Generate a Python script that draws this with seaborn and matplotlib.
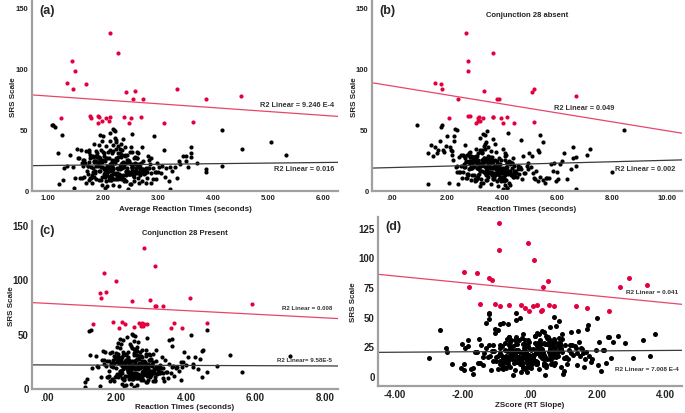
import numpy as np
import pandas as pd
import matplotlib as mpl
mpl.use('Agg')
import matplotlib.pyplot as plt
import seaborn as sb

# SRS scores of the participants under the cut-off (black dots), same people in all panels
srs_low = [12, 18, 25, 8, 31, 15, 22, 3, 19, 27, 14, 36, 10, 21, 17, 6, 29, 24, 13, 41,
           20, 9, 33, 16, 26, 11, 45, 19, 7, 23, 30, 14, 18, 38, 5, 22, 12, 28, 16, 25,
           34, 17, 10, 21, 4, 27, 15, 48, 20, 13, 24, 8, 32, 19, 11, 26, 37, 14, 22, 6,
           18, 29, 12, 23, 40, 9, 16, 31, 21, 2, 25, 14, 19, 35, 11, 27, 17, 7, 43, 20,
           15, 24, 10, 30, 18, 13, 52, 22, 8, 26, 16, 33, 20, 12, 28, 5, 19, 39, 23, 14,
           21, 11, 27, 17, 9, 34, 25, 15, 47, 19, 6, 30, 13, 22, 18, 42, 10, 26, 16, 1,
           23, 16, 36, 12, 20, 28, 8, 24, 14, 31, 18, 44, 11, 25, 19, 3, 29, 15, 21, 38,
           13, 26, 17, 9, 33, 22, 15, 50, 19, 27, 10, 23, 16, 35, 7, 20, 12, 30, 18, 24,
           14, 21, 46, 11, 28, 17, 24, 6, 32, 19, 15, 26, 9, 22, 40, 13, 18, 29, 4, 16,
           25, 12, 20, 37, 15, 23, 10, 27, 18, 49, 14, 21, 8, 31, 17, 24, 11, 35, 19, 2,
           22, 16, 28, 13, 19, 44, 9, 25, 17, 30, 12, 21, 53, 15, 26, 18, 7, 33, 14, 20,
           49, 34, 39, 29, 20, 15, 35, 30, 27, 17, 53, 45, 22, 10, 28, 5, 33, 24, 1, 15,
           17, 22, 9, 26, 13, 19, 31, 11, 24, 15, 20, 7, 28, 16, 23, 12, 18, 33, 10, 21,
           14, 25, 19, 8, 29, 16, 22, 12, 27, 18, 11, 24, 20, 6, 30, 15, 26, 13, 21, 17,
           23, 10, 18, 32, 14, 21, 9, 26, 16, 19, 13, 28, 22, 11, 17, 25, 8, 20, 15, 34,
           19, 27, 12, 16, 24, 7, 21, 15, 29, 18, 10, 23, 14, 26, 20, 13, 31, 17, 22, 9,
           16, 21, 28, 11, 18, 25, 14, 20, 8, 23, 17, 30, 12, 19, 26, 15, 22, 10, 24, 18]

rt_avg = [2.15, 1.82, 2.43, 1.96, 2.61, 2.08, 1.67, 2.29, 2.52, 1.91, 2.74, 2.05, 1.58, 2.37, 2.19, 2.88, 1.76, 2.46, 2.02, 2.23,
          1.88, 2.33, 2.12, 1.71, 2.56, 2.27, 1.94, 2.68, 2.41, 1.99, 2.17, 3.05, 2.09, 1.84, 2.49, 1.62, 2.36, 2.81, 1.93, 2.26,
          2.31, 2.72, 1.79, 2.14, 1.98, 2.58, 2.94, 2.21, 1.73, 2.47, 2.03, 2.39, 1.87, 2.65, 2.11, 1.55, 2.18, 2.77, 2.34, 1.69,
          2.06, 2.44, 2.25, 1.83, 2.13, 2.97, 1.95, 2.53, 2.32, 1.48, 2.16, 2.62, 1.78, 2.40, 3.12, 1.92, 2.28, 2.71, 2.22, 1.64,
          2.55, 1.86, 2.35, 2.01, 2.79, 2.19, 1.12, 2.42, 1.74, 2.87, 2.10, 1.97, 2.64, 2.30, 1.81, 2.50, 3.21, 2.24, 1.90, 2.59,
          2.38, 2.04, 1.89, 2.67, 2.20, 1.53, 2.45, 2.76, 2.12, 3.30, 1.80, 2.27, 2.49, 1.93, 2.83, 2.36, 1.61, 2.07, 2.57, 2.45,
          1.95, 2.60, 2.28, 2.41, 1.72, 3.45, 2.15, 1.85, 2.69, 2.00, 2.34, 2.92, 1.65, 2.22, 2.53, 2.08, 1.40, 2.80, 2.14, 2.32,
          2.48, 1.77, 2.11, 2.90, 1.60, 2.37, 2.63, 2.18, 3.02, 1.90, 2.26, 1.75, 2.44, 2.70, 2.05, 1.35, 2.55, 2.30, 3.15, 1.98,
          2.21, 2.85, 2.52, 1.84, 2.40, 2.01, 3.38, 2.66, 1.70, 2.13, 2.96, 1.57, 2.24, 2.47, 1.99, 2.75, 1.30, 2.35, 2.18, 3.25,
          1.66, 2.29, 3.08, 1.92, 2.58, 2.16, 1.50, 1.81, 2.43, 2.20, 2.87, 2.62, 1.27, 2.09, 2.71, 1.94, 2.33, 2.51, 1.45, 2.03,
          2.99, 2.17, 1.87, 2.56, 3.55, 2.00, 2.39, 1.63, 2.78, 1.18, 2.25, 3.40, 1.08, 2.46, 2.10, 2.82, 3.20, 1.75, 2.65, 2.12,
          4.17, 4.52, 5.05, 5.32, 4.17, 3.87, 3.60, 3.60, 3.60, 3.87, 1.10, 1.25, 3.70, 3.35, 3.50, 1.20, 3.10, 3.50, 3.22, 3.00,
          2.05, 2.38, 1.88, 2.62, 2.21, 1.97, 2.49, 2.14, 2.73, 1.81, 2.30, 2.56, 2.02, 2.44, 1.92, 2.67, 2.18, 2.35, 1.76, 2.58,
          2.26, 1.94, 2.52, 2.11, 2.40, 1.85, 2.69, 2.07, 2.33, 2.60, 1.99, 2.47, 2.16, 2.78, 1.90, 2.42, 2.24, 1.72, 2.55, 2.09,
          2.36, 2.64, 2.01, 2.19, 1.86, 2.50, 2.28, 1.95, 2.71, 2.12, 2.43, 1.79, 2.58, 2.04, 2.31, 2.84, 2.15, 1.91, 2.47, 2.23,
          1.98, 2.27, 2.54, 2.10, 1.83, 2.39, 2.66, 2.03, 2.32, 2.90, 2.17, 1.89, 2.45, 2.61, 2.08, 2.29, 1.74, 2.53, 2.20, 2.37,
          2.42, 2.13, 1.87, 2.57, 2.25, 2.00, 2.74, 2.34, 1.93, 2.48, 2.11, 2.63, 1.80, 2.39, 2.06, 2.52, 2.22, 2.80, 1.96, 2.30]

rt_absent = [3.42, 2.85, 4.11, 3.05, 3.77, 2.48, 4.36, 3.21, 2.96, 3.64, 4.52, 3.33, 2.71, 3.92, 3.15, 4.24, 2.59, 3.58, 3.87, 4.68,
             2.92, 3.69, 3.26, 4.45, 2.66, 3.98, 3.38, 2.33, 4.07, 3.51, 2.79, 4.81, 3.12, 3.74, 2.41, 4.19, 3.46, 2.88, 3.95, 3.29,
             4.02, 3.18, 2.55, 3.83, 4.29, 2.99, 3.61, 3.47, 4.58, 2.74, 3.36, 4.15, 2.19, 3.71, 3.09, 4.40, 2.64, 3.55, 4.93, 3.24,
             3.66, 2.50, 4.33, 3.02, 2.27, 4.71, 3.40, 2.83, 3.89, 4.17, 3.13, 5.12, 2.61, 3.49, 4.04, 2.94, 3.79, 5.30, 3.20, 2.37,
             3.57, 4.26, 2.69, 3.11, 4.64, 3.85, 1.78, 2.90, 5.48, 3.34, 4.49, 2.13, 3.72, 2.98, 4.12, 3.60, 5.05, 3.43, 2.76, 4.85,
             3.27, 4.55, 2.44, 3.81, 5.21, 3.07, 3.96, 2.58, 4.21, 3.52, 2.07, 4.97, 3.16, 4.38, 2.86, 3.68, 5.62, 3.00, 4.09, 4.05,
             4.30, 3.19, 1.95, 3.63, 2.52, 4.76, 3.44, 2.81, 3.93, 5.35, 3.08, 2.24, 4.44, 3.55, 2.67, 3.86, 4.13, 2.35, 5.78, 3.37,
             2.78, 3.90, 4.60, 3.25, 1.85, 3.48, 4.28, 2.30, 3.70, 2.95, 5.15, 3.59, 4.18, 2.10, 3.82, 4.90, 3.14, 1.62, 4.35, 3.01,
             3.75, 2.62, 3.30, 4.40, 1.50, 3.97, 2.87, 5.55, 3.22, 4.66, 2.45, 3.53, 6.05, 3.10, 1.75, 4.23, 3.65, 2.18, 4.10, 5.85,
             2.20, 4.45, 3.80, 1.42, 3.35, 2.70, 5.70, 3.06, 4.02, 2.38, 3.62, 6.10, 2.89, 1.90, 4.70, 3.44, 5.40, 1.55, 3.17, 4.20,
             3.53, 5.25, 2.60, 4.62, 3.88, 2.00, 6.35, 3.28, 4.95, 1.30, 3.73, 2.82, 1.80, 4.15, 6.60, 3.40, 5.95, 1.68, 4.52, 2.92,
             8.45, 7.20, 5.50, 7.10, 6.70, 8.00, 6.60, 6.25, 6.70, 6.50, 0.90, 5.40, 5.90, 5.60, 5.10, 1.30, 5.30, 6.20, 6.70, 6.00,
             3.45, 3.12, 3.88, 2.95, 3.62, 4.15, 3.28, 3.70, 2.82, 4.02, 3.36, 3.95, 3.05, 4.25, 3.55, 2.90, 3.78, 3.20, 4.08, 3.48,
             3.67, 3.02, 4.20, 3.40, 2.75, 3.85, 3.15, 4.35, 3.58, 3.10, 3.92, 2.68, 3.75, 3.30, 4.12, 3.52, 2.98, 4.40, 3.25, 3.80,
             3.33, 3.98, 2.88, 3.60, 4.05, 3.18, 3.72, 2.93, 4.28, 3.42, 3.85, 3.08, 4.18, 3.50, 2.80, 3.65, 4.00, 3.23, 3.90, 3.38,
             3.57, 2.85, 4.10, 3.27, 3.82, 3.00, 4.30, 3.46, 2.72, 3.95, 3.14, 3.68, 4.22, 3.35, 2.97, 3.77, 3.22, 4.08, 3.60, 3.03,
             3.90, 3.20, 3.50, 4.00, 2.92, 3.73, 3.37, 4.45, 3.06, 3.63, 4.13, 3.29, 2.78, 3.86, 3.44, 4.26, 3.11, 3.69, 2.99, 3.54]

rt_present = [2.45, 1.98, 2.72, 2.20, 3.05, 2.36, 1.84, 2.58, 2.91, 2.13, 3.22, 2.50, 1.73, 2.66, 2.29, 3.38, 1.92, 2.81, 2.40, 2.05,
              2.17, 2.62, 2.33, 1.79, 2.96, 2.48, 2.09, 3.14, 2.75, 2.25, 2.55, 3.56, 2.38, 2.02, 2.87, 1.65, 2.68, 3.30, 2.11, 2.52,
              2.59, 3.10, 1.95, 2.42, 2.15, 2.99, 3.45, 2.52, 1.88, 2.78, 2.27, 2.70, 2.00, 3.18, 2.35, 1.58, 2.46, 3.25, 2.64, 1.81,
              2.30, 2.85, 2.56, 1.94, 2.39, 3.48, 2.12, 2.93, 2.61, 1.52, 2.44, 3.02, 1.90, 2.74, 3.65, 2.06, 2.53, 3.12, 2.49, 1.70,
              2.90, 2.03, 2.65, 2.26, 3.28, 2.47, 1.20, 2.77, 1.86, 3.40, 2.34, 2.18, 3.01, 2.57, 1.97, 2.84, 3.75, 2.41, 2.08, 2.95,
              2.69, 2.24, 2.04, 3.07, 2.43, 1.62, 2.79, 3.20, 2.31, 3.88, 1.93, 2.51, 2.83, 2.10, 3.35, 2.63, 1.75, 2.28, 2.97, 1.10,
              2.14, 2.98, 2.55, 2.76, 1.83, 4.05, 2.37, 2.01, 3.08, 2.21, 2.67, 3.52, 1.77, 2.49, 2.89, 2.26, 1.40, 3.27, 2.39, 2.60,
              2.82, 1.91, 2.32, 3.33, 1.68, 2.71, 3.04, 2.44, 3.60, 2.07, 2.53, 1.86, 2.78, 3.15, 2.22, 1.45, 2.94, 2.60, 3.70, 2.16,
              2.50, 3.24, 2.88, 2.00, 2.74, 2.19, 3.92, 3.06, 1.80, 2.35, 3.42, 1.63, 2.56, 2.86, 2.12, 3.16, 1.30, 2.68, 2.41, 3.80,
              1.78, 2.59, 3.62, 2.09, 2.93, 2.37, 1.55, 1.99, 2.80, 2.47, 3.35, 3.01, 1.15, 2.27, 3.11, 2.06, 2.66, 2.85, 1.48, 2.23,
              3.50, 2.40, 2.04, 2.92, 4.20, 2.18, 2.72, 1.72, 3.20, 1.25, 2.55, 4.00, 1.28, 2.80, 2.30, 3.26, 3.85, 1.88, 3.00, 2.33,
              4.15, 4.45, 3.60, 7.00, 4.90, 4.60, 4.50, 5.27, 4.40, 4.35, 4.60, 3.60, 4.20, 4.45, 4.25, 1.10, 3.95, 3.85, 2.50, 5.60,
              2.40, 2.72, 2.15, 2.95, 2.52, 2.28, 2.84, 2.46, 3.05, 2.10, 2.63, 2.90, 2.33, 2.78, 2.20, 3.00, 2.50, 2.68, 2.05, 2.88,
              2.57, 2.25, 2.82, 2.44, 2.70, 2.12, 3.02, 2.38, 2.65, 2.92, 2.30, 2.79, 2.48, 3.10, 2.18, 2.74, 2.55, 2.02, 2.86, 2.42,
              2.66, 2.97, 2.32, 2.50, 2.16, 2.81, 2.60, 2.26, 3.04, 2.43, 2.76, 2.08, 2.90, 2.36, 2.62, 3.15, 2.47, 2.22, 2.78, 2.54,
              2.29, 2.58, 2.87, 2.41, 2.13, 2.71, 2.98, 2.34, 2.64, 3.20, 2.49, 2.19, 2.77, 2.93, 2.39, 2.61, 2.04, 2.85, 2.52, 2.69,
              2.75, 2.44, 2.17, 2.89, 2.56, 2.31, 3.07, 2.67, 2.23, 2.80, 2.42, 2.95, 2.10, 2.71, 2.37, 2.84, 2.53, 3.12, 2.27, 2.61]

z_slope = [0.12, -0.45, 0.68, -0.22, 0.95, -0.70, 0.33, -0.08, 1.20, -0.38, 0.51, -1.05, 0.20, -0.57, 0.82, -0.15, 1.45, -0.90, 0.05, 0.60,
           -0.30, 0.44, -0.62, 1.08, -0.12, 0.73, -1.30, 0.26, -0.84, 0.58, -0.05, 1.62, -0.48, 0.37, -1.15, 0.90, -0.25, 0.14, -0.76, 1.33,
           0.48, -0.95, 0.17, -0.40, 1.02, -0.18, 0.64, -1.22, 0.30, -0.66, 1.52, -0.02, 0.85, -0.53, 0.22, -1.45, 0.40, -0.10, 1.15, -0.80,
           -0.20, 0.75, -0.72, 0.10, -1.05, 1.38, -0.35, 0.55, -0.60, 0.98, -0.12, 1.85, -0.88, 0.28, -1.55, 0.62, -0.42, 0.02, 1.72, -0.28,
           0.35, -0.58, 1.10, -0.15, 0.70, -1.10, -1.20, 0.18, -0.78, 1.25, -0.32, 0.52, -1.62, 0.08, 0.88, -0.45, 1.58, -0.96, 0.25, -0.05,
           -0.68, 0.42, -0.22, 1.48, -1.40, 0.15, -0.50, 1.00, -0.40, 0.65, -1.75, 0.30, -0.10, 1.95, -0.85, 0.78, -0.30, 1.18, -1.25, 0.45,
           0.58, -1.00, 0.22, -0.38, 1.65, -0.75, 0.92, -0.18, 0.40, -1.50, 1.28, -0.65, 0.00, -1.85, 0.80, -0.28, 2.05, 0.10, -1.08, 1.42,
           -0.45, 1.05, -1.18, 0.48, -0.62, 2.20, -0.02, 0.70, -1.35, 0.32, -0.88, 1.55, -0.20, 0.95, -1.68, 0.18, 1.80, -0.55, 0.62, -1.92,
           1.12, -0.35, 0.85, -1.48, 0.25, -0.72, 1.35, -0.95, 0.50, -0.15, 2.40, -1.20, 0.72, -0.42, 1.70, -1.02, 0.38, -0.60, 2.10, -0.25,
           -0.82, 0.20, -1.58, 1.20, -0.08, 0.88, -1.95, 0.45, -0.50, 1.98, 0.05, -1.12, 1.60, -0.68, 0.30, -1.30, 2.25, -0.20, 0.68, -1.70,
           0.92, -1.40, 0.55, -0.30, 1.38, -0.90, 2.00, -0.05, 1.75, -1.85, 0.15, -0.58, -0.40, 1.05, -1.10, 0.42, -2.05, 2.35, -0.75, 0.80,
           -0.30, 2.60, -2.67, 2.45, -2.45, 3.05, 3.70, 3.35, -2.00, 3.55, -1.20, -0.80, 2.15, -2.30, 2.80, -1.95, 2.30, -2.50, -0.50, -3.00,
           0.05, -0.35, 0.42, -0.62, 0.18, -0.12, 0.70, -0.48, 0.30, -0.80, 0.55, -0.22, 0.85, -0.05, 0.36, -0.68, 0.10, -0.40, 0.62, -0.18,
           -0.28, 0.22, -0.55, 0.48, -0.02, 0.78, -0.75, 0.15, -0.42, 0.60, -0.10, 0.92, -0.60, 0.28, -0.32, 0.45, -0.88, 0.08, 0.72, -0.20,
           0.32, -0.65, 0.12, -0.25, 0.58, -0.50, 0.02, 0.82, -0.38, 0.20, -0.90, 0.40, -0.15, 0.65, -0.45, 0.25, -0.08, 0.95, -0.58, 0.16,
           -0.12, 0.50, -0.40, 0.08, 0.75, -0.70, 0.35, -0.20, 0.62, -0.02, -0.85, 0.28, -0.52, 0.88, -0.30, 0.14, 0.52, -0.62, 0.04, 0.40,
           0.45, -0.18, 0.25, -0.80, 0.10, 0.68, -0.35, 0.38, -0.58, 0.00, 0.80, -0.45, 0.20, -0.12, 0.56, -0.70, 0.30, -0.25, 0.90, -0.08]

# participants above the cut-off (red dots)
srs_high = [129, 112, 106, 98, 88, 87, 83, 83, 80, 81, 75, 75, 75, 77, 59,
            61, 59, 61, 60, 55, 57, 59, 57, 60, 60, 59, 55, 60, 55, 56]
rt_avg_high = [2.12, 2.28, 1.44, 1.49, 1.35, 1.70, 1.46, 3.35, 2.42, 2.59, 2.54, 2.73, 3.87, 4.51, 1.23,
               1.76, 1.78, 1.91, 1.92, 1.91, 1.99, 2.05, 2.10, 2.12, 2.38, 2.50, 2.47, 2.69, 3.10, 3.63]
rt_absent_high = [2.69, 3.68, 2.76, 2.75, 1.58, 1.78, 1.82, 5.16, 5.09, 3.35, 2.39, 3.81, 3.90, 6.70, 2.06,
                  2.75, 3.14, 2.83, 3.18, 3.05, 3.13, 3.30, 3.20, 3.69, 3.68, 3.98, 4.05, 4.17, 4.45, 5.18]
rt_present_high = [2.79, 3.11, 1.64, 1.98, 1.70, 1.53, 1.56, 4.12, 2.44, 2.97, 3.15, 3.10, 3.33, 5.91, 1.31,
                   1.90, 2.25, 2.17, 2.64, 2.06, 2.70, 2.87, 2.76, 2.72, 3.64, 2.80, 3.89, 4.59, 3.58, 2.50]
z_slope_high = [-0.93, -0.05, -0.93, 0.11, -1.96, -1.58, -1.20, 2.92, 0.53, -1.13, -1.80, 0.38, 2.65, 3.47, -0.88,
                -1.47, 0.09, -1.03, -0.62, 0.33, -0.14, 0.71, 1.68, 0.55, -0.27, 1.35, 2.33, 0.22, -0.03, 0.37]

# fitted lines: (intercept, slope) for high / low group
fit_high = [(80.25, -3.17), (85.3, -3.67), (77.8, -1.67), (73.05, -2.81)]
fit_low = [(19.65, 0.486), (18.43, 0.594), (21.15, -0.114), (20.8, 0.189)]
r2_high = ['R2 Linear = 9.246 E-4', 'R2 Linear = 0.049', 'R2 Linear = 0.008', 'R2 Linear = 0.041']
r2_low = ['R2 Linear = 0.016', 'R2 Linear = 0.002', 'R2 Linear= 9.58E-5', 'R2 Linear = 7.008 E-4']

RED = '#e2003f'
REDLINE = '#e8456a'
GREY = '#a0a0a0'
TXT = '#222222'


def spss_fmt(v):
    s = '%.2f' % v
    if s.startswith('0.'):
        s = s[1:]
    if s.startswith('-0.'):
        s = '-' + s[2:]
    if s == '-.00':
        s = '.00'
    return s


def draw_panel(fig, rect, xlow, xhigh, k, xlim, ylim, xticks, yticks, letter, xlabel,
               title=None, tsize=5.5, msize=9, ylab_x=-0.05, xlab_y=-0.085,
               hi_pos=None, lo_pos=None, r2size=5.3):
    ax = fig.add_axes(rect)
    low = pd.DataFrame({'x': xlow, 'y': srs_low})
    high = pd.DataFrame({'x': xhigh, 'y': srs_high})
    sb.scatterplot(data=low, x='x', y='y', ax=ax, color='black', s=msize, linewidth=0)
    sb.scatterplot(data=high, x='x', y='y', ax=ax, color=RED, s=msize, linewidth=0)

    xs = np.array(xlim)
    b0, b1 = fit_high[k]
    sb.lineplot(x=xs, y=b0 + b1 * xs, ax=ax, color=REDLINE, linewidth=0.9)
    b0, b1 = fit_low[k]
    sb.lineplot(x=xs, y=b0 + b1 * xs, ax=ax, color='#3a3a3a', linewidth=0.9)

    ax.set_xlim(xlim)
    ax.set_ylim(ylim)
    ax.set_xticks(xticks)
    ax.set_xticklabels([spss_fmt(t) for t in xticks])
    ax.set_yticks(yticks)
    for sp in ['top', 'right']:
        ax.spines[sp].set_visible(False)
    for sp in ['left', 'bottom']:
        ax.spines[sp].set_color(GREY)
        ax.spines[sp].set_linewidth(1.6)
    ax.tick_params(length=0, pad=2.5, labelsize=tsize, colors=TXT)
    for lab in ax.get_xticklabels() + ax.get_yticklabels():
        lab.set_fontweight('bold')
    ax.set_xlabel(xlabel, fontsize=5.8, fontweight='bold', color=TXT)
    ax.set_ylabel('SRS Scale', fontsize=5.8, fontweight='bold', color=TXT)
    ax.yaxis.set_label_coords(ylab_x, 0.5)
    ax.xaxis.set_label_coords(0.5, xlab_y)
    ax.text(0.025, 0.985, letter, transform=ax.transAxes, fontsize=9,
            fontweight='bold', va='top', ha='left')
    if title:
        ax.text(0.5, 0.93, title, transform=ax.transAxes, fontsize=5.5,
                fontweight='bold', va='center', ha='center', color=TXT)
    ax.text(hi_pos[0], hi_pos[1], r2_high[k], fontsize=r2size, fontweight='bold',
            ha=hi_pos[2], va='center', color='#333333')
    ax.text(lo_pos[0], lo_pos[1], r2_low[k], fontsize=r2size, fontweight='bold',
            ha=lo_pos[2], va='center', color='#333333')
    return ax


sb.set_style('white')
plt.rcParams['font.family'] = ['Liberation Sans', 'DejaVu Sans']

fig = plt.figure(figsize=(6.85, 4.14), dpi=100)
W, H = 685.0, 414.0

draw_panel(fig, [32 / W, 1 - 192 / H, 306 / W, 190 / H], rt_avg, rt_avg_high, 0,
           (0.71, 6.27), (-0.8, 155), [1, 2, 3, 4, 5, 6], [0, 50, 100, 150], '(a)',
           'Average Reaction Times (seconds)', ylab_x=-0.05, xlab_y=-0.075,
           hi_pos=(6.2, 70.5, 'right'), lo_pos=(6.2, 18, 'right'))

draw_panel(fig, [372 / W, 1 - 192 / H, 310 / W, 190 / H], rt_absent, rt_absent_high, 1,
           (-0.73, 10.55), (-0.8, 155), [0, 2, 4, 6, 8, 10], [0, 50, 100, 150], '(b)',
           'Reaction Times (seconds)', title='Conjunction 28 absent',
           ylab_x=-0.045, xlab_y=-0.075,
           hi_pos=(5.9, 67.6, 'left'), lo_pos=(8.1, 18, 'left'))

draw_panel(fig, [32 / W, 1 - 390 / H, 306 / W, 168 / H], rt_present, rt_present_high, 2,
           (-0.43, 8.37), (-1.0, 153.6), [0, 2, 4, 6, 8], [0, 50, 100, 150], '(c)',
           'Reaction Times (seconds)', title='Conjunction 28 Present', tsize=7.0,
           ylab_x=-0.055, xlab_y=-0.085,
           hi_pos=(8.2, 73.6, 'right'), lo_pos=(8.2, 25.8, 'right'), r2size=4.4)

draw_panel(fig, [378 / W, 1 - 387 / H, 304 / W, 169 / H], z_slope, z_slope_high, 3,
           (-4.5, 4.5), (-8.4, 134), [-4, -2, 0, 2, 4], [0, 25, 50, 75, 100, 125], '(d)',
           'ZScore (RT Slope)', tsize=7.0, msize=13, ylab_x=-0.07, xlab_y=-0.09,
           hi_pos=(4.4, 71.6, 'right'), lo_pos=(4.4, 6.5, 'right'), r2size=4.6)

fig.savefig('out.png', dpi=100)
